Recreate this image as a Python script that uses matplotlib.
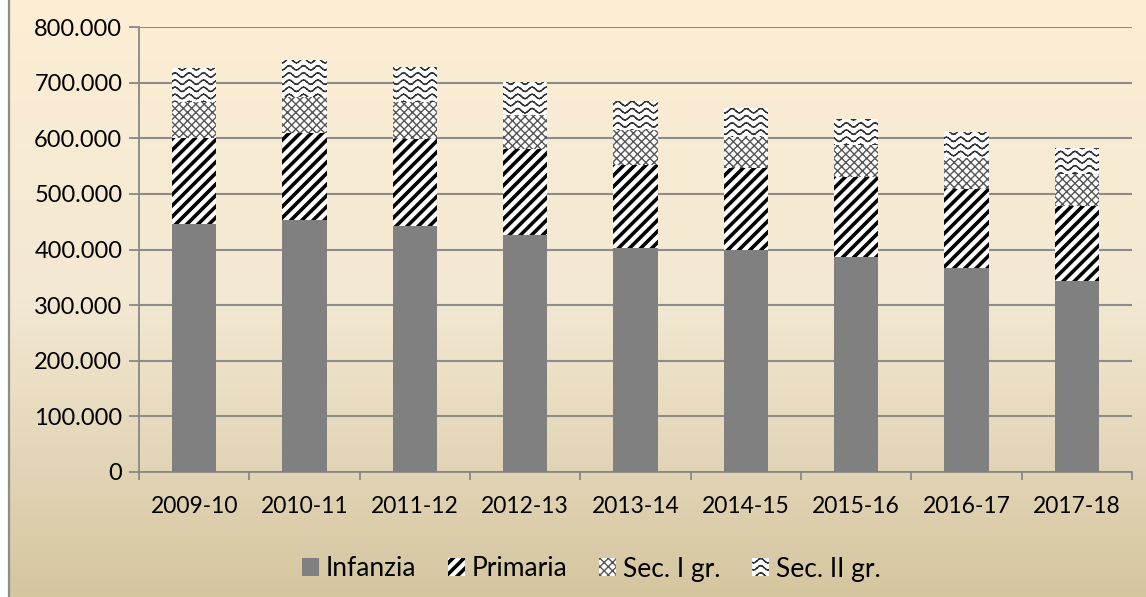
import numpy as np
import matplotlib
matplotlib.use("Agg")
import matplotlib.pyplot as plt
import matplotlib.hatch as mhatch
from matplotlib.path import Path
from matplotlib.patches import Rectangle
from matplotlib.colors import LinearSegmentedColormap
from matplotlib.ticker import FuncFormatter

# data (pupils)
years = ["2009-10", "2010-11", "2011-12", "2012-13", "2013-14",
         "2014-15", "2015-16", "2016-17", "2017-18"]
infanzia = [446000, 453000, 442000, 426000, 403000, 399000, 387000, 367000, 343000]
primaria = [154000, 157000, 156000, 154000, 149000, 147000, 143000, 141000, 136000]
sec_1 = [66000, 65000, 68000, 62000, 63000, 57000, 58000, 56000, 57000]
sec_2 = [61000, 65000, 62000, 60000, 52000, 51000, 47000, 47000, 46000]


# custom hatches: thick diagonal stripes ('|') and waves ('-')
class StripeHatch(mhatch.HatchPatternBase):
    n = 9
    w = 0.28

    def __init__(self, hatch, density):
        self.on = hatch.count('|') > 0
        self.num_vertices = (2 * self.n + 1) * 5 if self.on else 0

    def set_vertices_and_codes(self, vertices, codes):
        n, w = self.n, self.w / self.n
        i = 0
        for k in range(-n, n + 1):
            x0 = k / n
            vertices[i:i + 5] = [(x0 - w / 2, 0), (x0 + w / 2, 0),
                                 (x0 + w / 2 + 1, 1), (x0 - w / 2 + 1, 1),
                                 (x0 - w / 2, 0)]
            codes[i:i + 5] = [Path.MOVETO, Path.LINETO, Path.LINETO,
                              Path.LINETO, Path.CLOSEPOLY]
            i += 5


class WaveHatch(mhatch.HatchPatternBase):
    rows = 14
    periods = 7
    steps = 56
    amp = 0.022

    def __init__(self, hatch, density):
        self.on = hatch.count('-') > 0
        self.num_vertices = self.rows * self.steps * 2 if self.on else 0

    def set_vertices_and_codes(self, vertices, codes):
        xs = np.linspace(0, 1, self.steps + 1)
        i = 0
        for r in range(self.rows):
            y0 = (r + 0.5) / self.rows
            ys = y0 + self.amp * np.sin(2 * np.pi * self.periods * xs)
            for s in range(self.steps):
                vertices[i] = (xs[s], ys[s])
                vertices[i + 1] = (xs[s + 1], ys[s + 1])
                codes[i] = Path.MOVETO
                codes[i + 1] = Path.LINETO
                i += 2


mhatch._hatch_types = [h for h in mhatch._hatch_types
                       if h not in (mhatch.HorizontalHatch, mhatch.VerticalHatch)]
mhatch._hatch_types += [StripeHatch, WaveHatch]

plt.rcParams['font.family'] = ['Lato', 'DejaVu Sans']
plt.rcParams['hatch.linewidth'] = 1.0
plt.rcParams['hatch.color'] = 'black'

fig = plt.figure(figsize=(11.46, 5.97), dpi=100)

# gradient background
bg = fig.add_axes([0, 0, 1, 1], zorder=-10)
cmap = LinearSegmentedColormap.from_list("bg", ["#FDEED4", "#F3E8D2", "#D5C6A0"])
grad = np.linspace(0, 1, 256).reshape(-1, 1)
bg.imshow(grad, aspect='auto', cmap=cmap, extent=[0, 1, 0, 1], origin='upper')
bg.add_patch(Rectangle((0, 0), 8 / 1146, 1, color='white', lw=0))
bg.axvline(8.5 / 1146, color='#8c8c8c', lw=1.6)
bg.set_xlim(0, 1)
bg.set_ylim(0, 1)
bg.axis('off')

ax = fig.add_axes([139 / 1146, 1 - 472 / 597, (1132 - 139) / 1146, (472 - 27) / 597])
ax.set_facecolor('none')

x = np.arange(len(years))
bw = 0.4
b1 = np.array(infanzia)
b2 = b1 + np.array(primaria)
b3 = b2 + np.array(sec_1)

ax.bar(x, infanzia, bw, color='#808080', lw=0, zorder=3, label='Infanzia')
ax.bar(x, primaria, bw, bottom=b1, facecolor='white', edgecolor='black', lw=0,
       hatch='|', zorder=3, label='Primaria')
ax.bar(x, sec_1, bw, bottom=b2, facecolor='white', edgecolor='#555555', lw=0,
       hatch='xxxx', zorder=3, label='Sec. I gr.')
ax.bar(x, sec_2, bw, bottom=b3, facecolor='white', edgecolor='#333333', lw=0,
       hatch='-', zorder=3, label='Sec. II gr.')

ax.set_xlim(-0.5, len(years) - 0.5)
ax.set_ylim(0, 800000)
ax.set_yticks(np.arange(0, 800001, 100000))
ax.yaxis.set_major_formatter(FuncFormatter(lambda v, p: f"{int(v):,}".replace(",", ".")))
ax.set_xticks(x)
ax.set_xticklabels(years)
ax.set_xticks(np.arange(-0.5, len(years)), minor=True)
ax.tick_params(axis='x', which='major', length=0, pad=17, labelsize=16.5)
ax.tick_params(axis='x', which='minor', length=6, color='#888888', width=1.3)
ax.tick_params(axis='y', length=7, color='#888888', width=1.3, labelsize=17, pad=5)
ax.grid(axis='y', color='#8c8c8c', lw=1.5, zorder=0)
for s in ['top', 'right']:
    ax.spines[s].set_visible(False)
for s in ['left', 'bottom']:
    ax.spines[s].set_color('#888888')
    ax.spines[s].set_linewidth(1.3)

fig.legend(*ax.get_legend_handles_labels(), loc='center',
           bbox_to_anchor=(591 / 1146, 1 - 569 / 597), ncol=4, frameon=False,
           fontsize=19, handlelength=0.65, handleheight=0.65, handletextpad=0.25,
           columnspacing=1.2, borderpad=0)

fig.savefig("out.png", dpi=100)
